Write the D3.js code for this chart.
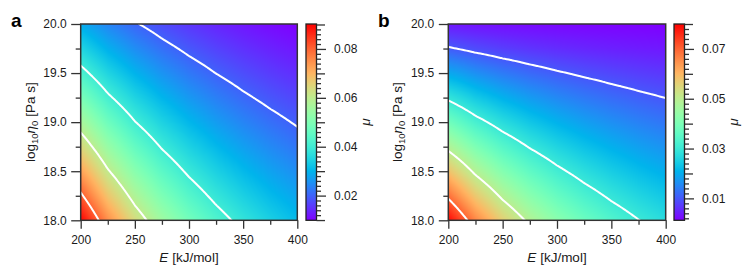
<!DOCTYPE html>
<html><head><meta charset="utf-8">
<script src="https://cdn.jsdelivr.net/npm/d3@7"></script>
<style>
body{margin:0;background:#fff}
svg text{font-family:"Liberation Sans",Arial,Helvetica,sans-serif}
</style>
</head><body>
<svg id="chart" width="747" height="272"></svg>
<script>
// ---- data ----
const energies = [200, 225, 250, 275, 300, 325, 350, 375, 400];          // E [kJ/mol]
const logEta   = [18.0, 18.25, 18.5, 18.75, 19.0, 19.25, 19.5, 19.75, 20.0]; // log10 eta0
// mu grid, panel a: rows = logEta, columns = energies
const muA = [
  [0.0900, 0.07507, 0.06383, 0.05512, 0.04820, 0.04262, 0.03802, 0.03418, 0.03095],
  [0.08117, 0.06771, 0.05757, 0.04971, 0.04348, 0.03843, 0.03429, 0.03083, 0.02792],
  [0.07268, 0.06062, 0.05154, 0.04451, 0.03893, 0.03441, 0.03070, 0.02760, 0.02499],
  [0.06452, 0.05382, 0.04576, 0.03951, 0.03456, 0.03055, 0.02725, 0.02451, 0.02219],
  [0.05670, 0.04729, 0.04021, 0.03472, 0.03037, 0.02685, 0.02395, 0.02154, 0.01950],
  [0.04922, 0.04106, 0.03491, 0.03014, 0.02636, 0.02331, 0.02079, 0.01869, 0.01693],
  [0.04208, 0.03510, 0.02984, 0.02577, 0.02254, 0.01992, 0.01777, 0.01598, 0.01447],
  [0.03527, 0.02942, 0.02501, 0.02160, 0.01889, 0.01670, 0.01490, 0.01340, 0.01213],
  [0.02880, 0.02402, 0.02043, 0.01764, 0.01543, 0.01364, 0.01217, 0.01094, 0.00990]
];
// mu grid, panel b
const muB = [
  [0.0793, 0.06614, 0.05624, 0.04856, 0.04247, 0.03755, 0.03350, 0.03012, 0.02727],
  [0.06872, 0.05732, 0.04874, 0.04209, 0.03681, 0.03254, 0.02903, 0.02610, 0.02363],
  [0.05837, 0.04868, 0.04139, 0.03574, 0.03126, 0.02764, 0.02465, 0.02217, 0.02007],
  [0.04829, 0.04028, 0.03425, 0.02958, 0.02587, 0.02287, 0.02040, 0.01834, 0.01661],
  [0.03846, 0.03208, 0.02728, 0.02355, 0.02060, 0.01821, 0.01625, 0.01461, 0.01323],
  [0.02887, 0.02408, 0.02047, 0.01768, 0.01546, 0.01367, 0.01219, 0.01096, 0.00993],
  [0.01951, 0.01627, 0.01384, 0.01195, 0.01045, 0.00924, 0.00824, 0.00741, 0.00671],
  [0.01047, 0.00873, 0.00742, 0.00641, 0.00561, 0.00496, 0.00442, 0.00398, 0.00360],
  [0.00357, 0.00298, 0.00253, 0.00219, 0.00191, 0.00169, 0.00151, 0.00136, 0.00123]
];
const levelsA  = [0.02, 0.04, 0.06, 0.08];
const levelsB  = [0.01, 0.03, 0.05, 0.07];
const cbTicksA = [0.02, 0.04, 0.06, 0.08];
const cbTicksB = [0.01, 0.03, 0.05, 0.07];
const cbRangeA = [0.0099, 0.0902];
const cbRangeB = [0.0012, 0.0800];
const xTicks      = [200, 250, 300, 350, 400];
const xMinorTicks = [225, 275, 325, 375];
const yTicks      = [18.0, 18.5, 19.0, 19.5, 20.0];
const yMinorTicks = [18.25, 18.75, 19.25, 19.75];
const panelLetters = ["a", "b"];

// ---- helpers ----
const svg = d3.select("#chart");
const FONT = '"Liberation Sans",Arial,Helvetica,sans-serif';
const INK = "#1a1a1a", FRAME = "#333";

function rainbow(t) { // matplotlib 'rainbow'
  t = Math.max(0, Math.min(1, t));
  const r = Math.min(1, Math.abs(2 * t - 0.5));
  const g = Math.max(0, Math.sin(Math.PI * t));
  const b = Math.max(0, Math.cos(Math.PI * t / 2));
  return [r, g, b].map(v => Math.round(v * 255));
}
function sampler(grid) {
  const ne = energies.length, nl = logEta.length;
  const ei = d3.scaleLinear().domain(energies).range(d3.range(ne)).clamp(true);
  const li = d3.scaleLinear().domain(logEta).range(d3.range(nl)).clamp(true);
  return (E, L) => {
    const fx = ei(E), fy = li(L);
    const i = Math.min(ne - 2, Math.floor(fx)), j = Math.min(nl - 2, Math.floor(fy));
    const tx = fx - i, ty = fy - j;
    const a = grid[j][i] * (1 - tx) + grid[j][i + 1] * tx;
    const b = grid[j + 1][i] * (1 - tx) + grid[j + 1][i + 1] * tx;
    return a * (1 - ty) + b * ty;
  };
}

const defs = svg.append("defs");
const y0 = 24, y1 = 220.3;

const panels = [
  {grid: muA, levels: levelsA, cbTicks: cbTicksA, cbRange: cbRangeA, x0: 80.7, x1: 297.3, cbx: 306, letterX: 11},
  {grid: muB, levels: levelsB, cbTicks: cbTicksB, cbRange: cbRangeB, x0: 448.3, x1: 665.7, cbx: 674, letterX: 378}
];

panels.forEach((p, k) => {
  const g = svg.append("g");
  const xs = d3.scaleLinear().domain([xTicks[0], xTicks[xTicks.length - 1]]).range([p.x0, p.x1]);
  const ys = d3.scaleLinear().domain([yTicks[0], yTicks[yTicks.length - 1]]).range([y1, y0]);
  const f = sampler(p.grid);
  const norm = d3.scaleLinear().domain(p.cbRange).range([0, 1]);

  // heatmap raster
  const cw = Math.round(p.x1 - p.x0), ch = Math.round(y1 - y0);
  const canvas = document.createElement("canvas");
  canvas.width = cw; canvas.height = ch;
  const ctx = canvas.getContext("2d");
  const img = ctx.createImageData(cw, ch);
  for (let py = 0; py < ch; py++) {
    const L = ys.invert(y0 + (py + 0.5) * (y1 - y0) / ch);
    for (let px = 0; px < cw; px++) {
      const E = xs.invert(p.x0 + (px + 0.5) * (p.x1 - p.x0) / cw);
      const c = rainbow(norm(f(E, L)));
      const o = (py * cw + px) * 4;
      img.data[o] = c[0]; img.data[o + 1] = c[1]; img.data[o + 2] = c[2]; img.data[o + 3] = 255;
    }
  }
  ctx.putImageData(img, 0, 0);
  g.append("image")
    .attr("x", p.x0).attr("y", y0).attr("width", p.x1 - p.x0).attr("height", y1 - y0)
    .attr("preserveAspectRatio", "none")
    .attr("href", canvas.toDataURL());

  // contours
  const nx = 109, ny = 99;
  const [e0, e1] = xs.domain(), [l0, l1] = ys.domain();
  const vals = new Array(nx * ny);
  for (let j = 0; j < ny; j++) for (let i = 0; i < nx; i++) {
    vals[j * nx + i] = f(e0 + i * (e1 - e0) / (nx - 1), l1 - j * (l1 - l0) / (ny - 1));
  }
  const contours = d3.contours().size([nx, ny]).thresholds(p.levels)(vals);
  const proj = d3.geoTransform({point: function(x, y) {
    this.stream.point(xs(e0 + (x - 0.5) * (e1 - e0) / (nx - 1)), ys(l1 - (y - 0.5) * (l1 - l0) / (ny - 1)));
  }});
  const clipId = "clip" + k;
  defs.append("clipPath").attr("id", clipId).append("rect")
    .attr("x", p.x0).attr("y", y0).attr("width", p.x1 - p.x0).attr("height", y1 - y0);
  g.append("g").attr("clip-path", `url(#${clipId})`)
    .selectAll("path").data(contours).join("path")
    .attr("d", d3.geoPath(proj))
    .attr("fill", "none").attr("stroke", "#fff").attr("stroke-width", 2)
    .attr("stroke-linejoin", "round");

  // frame
  g.append("rect").attr("x", p.x0).attr("y", y0).attr("width", p.x1 - p.x0).attr("height", y1 - y0)
    .attr("fill", "none").attr("stroke", FRAME).attr("stroke-width", 1.5);

  function styleAxis(sel, size) {
    sel.select(".domain").remove();
    sel.attr("color", INK).attr("font-family", FONT).attr("font-size", size || 12);
    sel.selectAll("line").attr("stroke", FRAME).attr("stroke-width", 1.3);
  }
  // x axis
  g.append("g").attr("transform", `translate(0,${y1})`)
    .call(d3.axisBottom(xs).tickValues(xMinorTicks).tickSize(4.5).tickFormat(""))
    .call(styleAxis);
  g.append("g").attr("transform", `translate(0,${y1})`)
    .call(d3.axisBottom(xs).tickValues(xTicks).tickSize(8.5).tickPadding(7).tickFormat(d3.format("d")))
    .call(styleAxis);
  // y axis
  g.append("g").attr("transform", `translate(${p.x0},0)`)
    .call(d3.axisLeft(ys).tickValues(yMinorTicks).tickSize(5).tickFormat(""))
    .call(styleAxis);
  g.append("g").attr("transform", `translate(${p.x0},0)`)
    .call(d3.axisLeft(ys).tickValues(yTicks).tickSize(9.5).tickPadding(4.5).tickFormat(d3.format(".1f")))
    .call(styleAxis);

  // axis labels
  const xl = g.append("text").attr("x", (p.x0 + p.x1) / 2).attr("y", 262)
    .attr("text-anchor", "middle").attr("font-size", 13.5).attr("fill", INK);
  xl.append("tspan").attr("font-style", "italic").text("E");
  xl.append("tspan").text(" [kJ/mol]");

  const cy = (y0 + y1) / 2;
  const yl = g.append("text").attr("transform", `translate(${p.x0 - 46},${cy}) rotate(-90)`)
    .attr("text-anchor", "middle").attr("font-size", 13.5).attr("fill", INK);
  yl.append("tspan").text("log");
  yl.append("tspan").attr("font-size", 9.5).attr("dy", 3).text("10");
  yl.append("tspan").attr("font-style", "italic").attr("dy", -3).text("η");
  yl.append("tspan").attr("font-size", 9.5).attr("dy", 3).text("0");
  yl.append("tspan").attr("dy", -3).text(" [Pa s]");

  // panel letter
  g.append("text").attr("x", p.letterX).attr("y", 27).attr("font-size", 19).attr("font-weight", "bold")
    .attr("fill", "#000").text(panelLetters[k]);

  // colorbar
  const cbw = 10.5;
  const gradId = "grad" + k;
  const grad = defs.append("linearGradient").attr("id", gradId)
    .attr("x1", 0).attr("y1", 1).attr("x2", 0).attr("y2", 0);
  d3.range(65).forEach(i => {
    const t = i / 64, c = rainbow(t);
    grad.append("stop").attr("offset", t).attr("stop-color", `rgb(${c[0]},${c[1]},${c[2]})`);
  });
  g.append("rect").attr("x", p.cbx).attr("y", y0).attr("width", cbw).attr("height", y1 - y0)
    .attr("fill", `url(#${gradId})`).attr("stroke", "#222").attr("stroke-width", 1.3);
  const cs = d3.scaleLinear().domain(p.cbRange).range([y1, y0]);
  const lo = p.cbRange[0], hi = p.cbRange[1];
  const allMinor = d3.range(Math.ceil(lo / 0.002 - 1e-9), Math.floor(hi / 0.002 + 1e-9) + 1).map(q => +(q * 0.002).toFixed(4));
  const isHundredth = v => Math.abs(v * 100 - Math.round(v * 100)) < 1e-6;
  const minor = allMinor.filter(v => !isHundredth(v));
  const medium = allMinor.filter(v => isHundredth(v) && !p.cbTicks.some(t => Math.abs(t - v) < 1e-6));
  const cbx1 = p.cbx + cbw;
  g.append("g").attr("transform", `translate(${cbx1},0)`)
    .call(d3.axisRight(cs).tickValues(minor).tickSize(4.5).tickFormat("")).call(styleAxis);
  g.append("g").attr("transform", `translate(${cbx1},0)`)
    .call(d3.axisRight(cs).tickValues(medium).tickSize(8.5).tickFormat("")).call(styleAxis);
  g.append("g").attr("transform", `translate(${cbx1},0)`)
    .call(d3.axisRight(cs).tickValues(p.cbTicks).tickSize(9.5).tickPadding(8).tickFormat(d3.format(".2f")))
    .call(styleAxis);
  g.append("text").attr("transform", `translate(${cbx1 + 53},${cy}) rotate(-90)`)
    .attr("text-anchor", "middle").attr("font-size", 13.5).attr("font-style", "italic")
    .attr("fill", INK).text("μ");
});
</script>
</body></html>
